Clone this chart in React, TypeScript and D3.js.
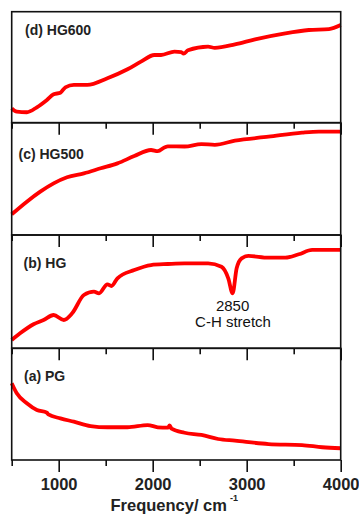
import { useRef, useEffect } from "react";
import * as d3 from "d3";

// (d) HG600
const freqD = [500, 554, 661, 768, 875, 946, 1018, 1071, 1161, 1304, 1518, 1732, 1875, 2018, 2089, 2232, 2304, 2329, 2375, 2589, 2661, 2875, 3089, 3411, 3661, 3875, 4000];
const valD = [13.0, 9.9, 9.4, 13.9, 20.5, 25.6, 27.0, 31.9, 34.0, 34.0, 40.0, 48.1, 55.0, 61.0, 61.0, 64.0, 63.6, 62.2, 65.2, 68.5, 67.5, 70.6, 75.1, 80.5, 83.5, 84.4, 88.0];

// (c) HG500
const freqC = [500, 661, 804, 946, 1089, 1268, 1446, 1625, 1804, 1982, 2054, 2130, 2161, 2339, 2518, 2661, 2875, 3232, 3589, 3768, 4000];
const valC = [18.4, 29.7, 38.6, 46.0, 51.4, 54.9, 59.4, 63.8, 70.3, 75.7, 74.6, 78.2, 79.0, 78.8, 81.0, 80.3, 84.0, 87.5, 91.1, 92.0, 92.0];

// (b) HG
const freqB = [500, 589, 732, 839, 946, 1054, 1143, 1268, 1375, 1429, 1518, 1561, 1625, 1804, 1982, 2161, 2339, 2589, 2732, 2804, 2850, 2893, 2946, 3018, 3232, 3411, 3554, 3696, 4000];
const valB = [7.3, 13.2, 21.2, 25.0, 29.4, 25.0, 30.9, 47.0, 50.0, 48.5, 56.5, 55.0, 61.8, 69.1, 73.5, 74.4, 75.0, 75.0, 72.0, 61.8, 48.5, 70.6, 79.4, 81.5, 80.0, 80.0, 83.0, 86.8, 86.8];

// (a) PG
const freqA = [500, 554, 661, 768, 875, 890, 1018, 1161, 1339, 1518, 1732, 1946, 2054, 2161, 2180, 2200, 2339, 2518, 2696, 2875, 3232, 3589, 3804, 4000];
const valA = [68.7, 59.7, 50.8, 44.8, 42.3, 40.8, 37.3, 34.3, 30.4, 29.3, 29.3, 31.3, 29.3, 28.9, 31.0, 28.0, 24.4, 22.4, 18.8, 17.3, 14.3, 13.4, 11.4, 10.5];

const labels = ["(d) HG600", "(c) HG500", "(b) HG", "(a) PG"];
const majorTicks = [1000, 2000, 3000, 4000];
const minorTicks = [500, 1500, 2500, 3500];

const W = 359;
const H = 514;
const left = 11.7;
const right = 340.7;
const panelTops = [11.7, 122.7, 235, 348.3];
const panelBottoms = [122.7, 235, 348.3, 460];
const labelPos = [
  { x: 25, y: 34.5 },
  { x: 18.5, y: 158.5 },
  { x: 23.5, y: 267.5 },
  { x: 24, y: 381 },
];

const App = () => {
  const svgRef = useRef<SVGSVGElement>(null);

  useEffect(() => {
    const svg = d3.select(svgRef.current);
    svg.selectAll("*").remove();

    const x = d3.scaleLinear().domain([500, 4000]).range([left, right]);

    const series = [
      { f: freqD, v: valD },
      { f: freqC, v: valC },
      { f: freqB, v: valB },
      { f: freqA, v: valA },
    ];

    series.forEach((s, i) => {
      const y = d3
        .scaleLinear()
        .domain([0, 100])
        .range([panelBottoms[i], panelTops[i]]);

      const pts = s.f.map((f, j) => [f, s.v[j]] as [number, number]);
      const line = d3
        .line<[number, number]>()
        .x((d) => x(d[0]))
        .y((d) => y(d[1]))
        .curve(d3.curveMonotoneX);

      svg
        .append("path")
        .attr("d", line(pts))
        .attr("fill", "none")
        .attr("stroke", "#ff0000")
        .attr("stroke-width", 3.8)
        .attr("stroke-linejoin", "round");

      svg
        .append("rect")
        .attr("x", left)
        .attr("y", panelTops[i])
        .attr("width", right - left)
        .attr("height", panelBottoms[i] - panelTops[i])
        .attr("fill", "none")
        .attr("stroke", "#111")
        .attr("stroke-width", 1.6);

      const isLast = i === series.length - 1;

      const major = svg
        .append("g")
        .attr("transform", `translate(0,${panelBottoms[i]})`)
        .call(
          d3
            .axisBottom(x)
            .tickValues(majorTicks)
            .tickSize(12)
            .tickSizeOuter(0)
            .tickPadding(6)
            .tickFormat((d) => (isLast ? String(d) : ""))
        );
      major.select(".domain").remove();
      major.selectAll("line").attr("stroke", "#111").attr("stroke-width", 1.6);
      major
        .selectAll("text")
        .attr("font-family", "Arial, 'Liberation Sans', sans-serif")
        .attr("font-size", 16.5)
        .attr("font-weight", "bold")
        .attr("fill", "#222");

      const minor = svg
        .append("g")
        .attr("transform", `translate(0,${panelBottoms[i]})`)
        .call(
          d3
            .axisBottom(x)
            .tickValues(minorTicks)
            .tickSize(6)
            .tickSizeOuter(0)
            .tickFormat(() => "")
        );
      minor.select(".domain").remove();
      minor.selectAll("line").attr("stroke", "#111").attr("stroke-width", 1.6);

      svg
        .append("text")
        .attr("x", labelPos[i].x)
        .attr("y", labelPos[i].y)
        .attr("font-family", "Arial, 'Liberation Sans', sans-serif")
        .attr("font-size", 14)
        .attr("font-weight", "bold")
        .attr("fill", "#222")
        .text(labels[i]);
    });

    // annotation for the C-H dip
    const ann = svg
      .append("g")
      .attr("font-family", "Arial, 'Liberation Sans', sans-serif")
      .attr("font-size", 15)
      .attr("fill", "#111")
      .attr("text-anchor", "middle");
    ann.append("text").attr("x", x(2850)).attr("y", 310.7).text("2850");
    ann.append("text").attr("x", 233).attr("y", 326.5).text("C-H stretch");

    // x axis title
    const title = svg
      .append("text")
      .attr("x", 110.5)
      .attr("y", 510.5)
      .attr("font-family", "Arial, 'Liberation Sans', sans-serif")
      .attr("font-size", 16.5)
      .attr("font-weight", "bold")
      .attr("fill", "#222");
    title.append("tspan").text("Frequency/ cm");
    title
      .append("tspan")
      .attr("font-size", 9)
      .attr("dx", 3)
      .attr("dy", -10)
      .text("-1");
  }, []);

  return (
    <svg
      ref={svgRef}
      width={W}
      height={H}
      style={{ position: "absolute", left: 0, top: 0, background: "#fff" }}
    ></svg>
  );
};

export default App;
